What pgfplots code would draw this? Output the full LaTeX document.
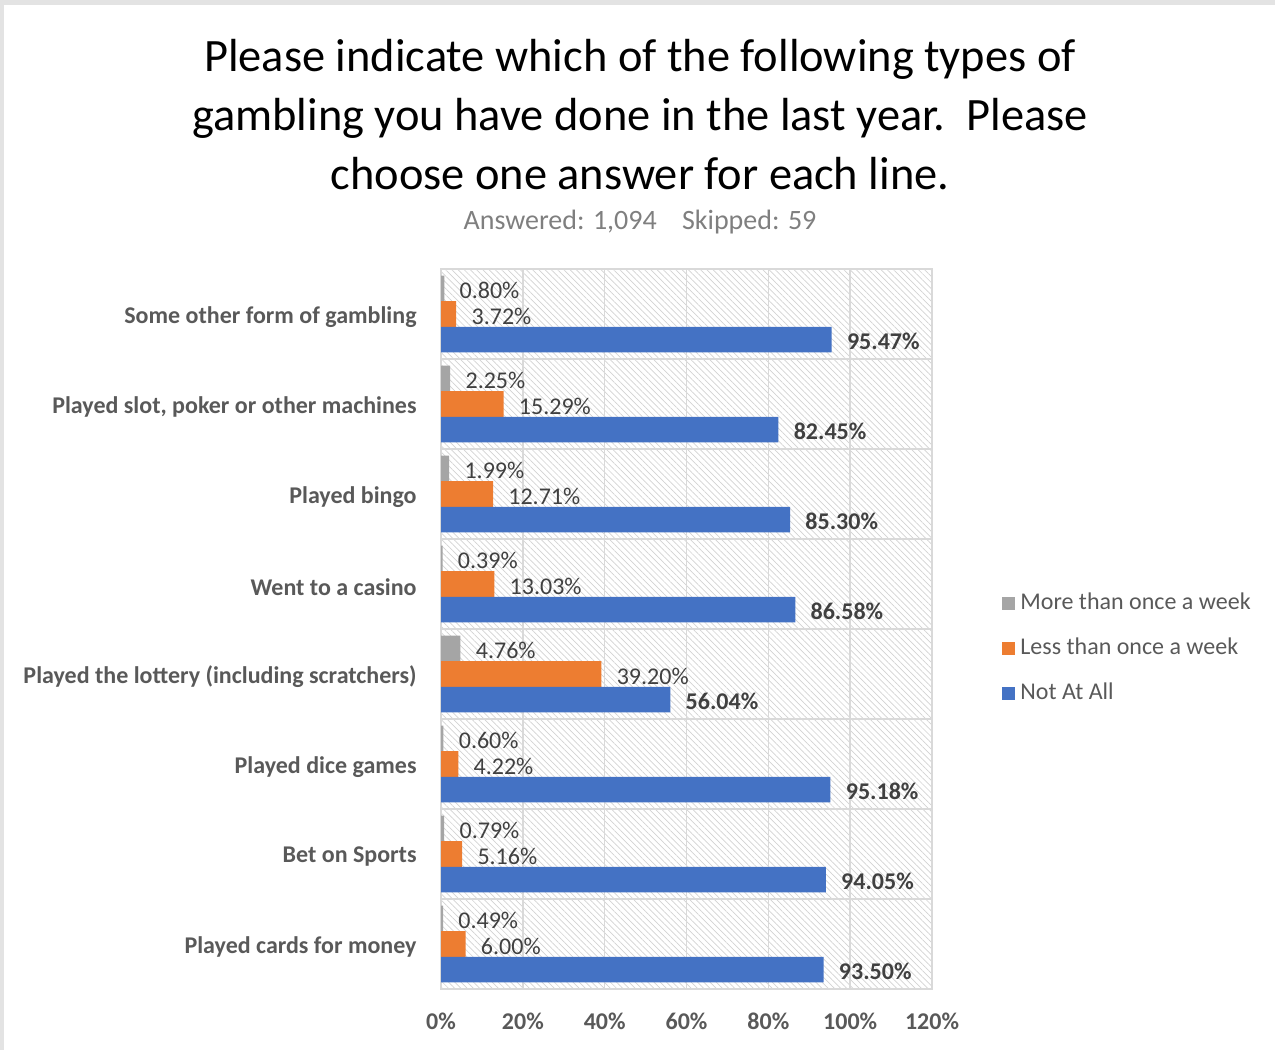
\documentclass[border=0pt]{standalone}
\usepackage{pgfplots}
\pgfplotsset{compat=1.18}
\usepackage{fontspec}
\setmainfont{Carlito}
\usetikzlibrary{patterns.meta}
\definecolor{cgray}{HTML}{A5A5A5}
\definecolor{corange}{HTML}{ED7D31}
\definecolor{cblue}{HTML}{4472C4}
\definecolor{lbl}{HTML}{404040}
\definecolor{axtxt}{HTML}{595959}
\definecolor{gridc}{HTML}{D9D9D9}
\definecolor{subc}{HTML}{7F7F7F}
\begin{document}
\begin{tikzpicture}[x=0.5pt,y=0.5pt]
\path[use as bounding box] (0,0) rectangle (1275,1050);
\fill[gray!22] (0,1045) rectangle (1275,1050);
\fill[gray!22] (0,0) rectangle (4,1050);
% title
\begin{scope}[every node/.style={inner sep=0pt, anchor=base, font=\fontsize{23.2pt}{28pt}\selectfont}]
\node at (640,978) {Please indicate which of the following types of};
\node at (640,919) {gambling you have done in the last year.\ \ Please};
\node at (640,860) {choose one answer for each line.};
\end{scope}
\node[inner sep=0pt, anchor=base, text=subc, font=\fontsize{14pt}{17pt}\selectfont] at (640,820) {Answered: 1,094\hspace{0.9em}Skipped: 59};
\begin{axis}[
  at={(220.5pt,30.5pt)}, anchor=south west, scale only axis,
  width=245.5pt, height=360pt,
  xbar, bar width=0.285,
  xmin=0, xmax=120, ymin=-0.5, ymax=7.5,
  /pgf/number format/assume math mode=true,
  xtick={0,20,...,120},
  xticklabel={\pgfmathprintnumber{\tick}\%},
  xticklabel style={font=\bfseries\fontsize{12pt}{14pt}\selectfont, text=axtxt, inner sep=0pt, anchor=north, yshift=-12pt},
  ytick={0,...,7},
  yticklabels={Played cards for money, Bet on Sports, Played dice games, Played the lottery (including scratchers), Went to a casino, Played bingo, {Played slot, poker or other machines}, Some other form of gambling},
  yticklabel style={font=\bfseries\fontsize{12pt}{14pt}\selectfont, text=axtxt, inner sep=0pt, anchor=east, xshift=-12pt, yshift=-1.5pt},
  minor ytick={-0.5,0.5,...,7.5},
  major tick length=0pt, minor tick length=0pt,
  xmajorgrids, yminorgrids,
  grid style={draw=gridc, line width=0.8pt},
  axis line style={draw=gridc, line width=0.8pt},
  axis background/.style={pattern={Lines[angle=-45,distance=2.2pt,line width=0.35pt]}, pattern color=gray!35},
  nodes near coords={\pgfmathprintnumber[fixed,fixed zerofill,precision=2]{\pgfplotspointmeta}\%},
  nodes near coords style={anchor=west, inner sep=0pt, xshift=7.5pt, yshift=-1pt, text=lbl, font=\fontsize{12pt}{14pt}\selectfont},
  legend image code/.code={\fill[#1] (0pt,-3.25pt) rectangle (6.5pt,3.25pt);},
  legend style={at={(1.1426,0.4736)}, anchor=west, draw=none, fill=none, inner sep=0pt,
    nodes={inner sep=0pt, text height=9pt, text depth=3pt, text=axtxt, font=\fontsize{12pt}{14pt}\selectfont},
    row sep=10.5pt, /tikz/every odd column/.append style={column sep=2.5pt}},
  legend cell align=left,
]
\addplot[fill=cgray, draw=none, bar shift=0.285] coordinates {(0.49,0) (0.79,1) (0.60,2) (4.76,3) (0.39,4) (1.99,5) (2.25,6) (0.80,7)};
\addlegendentry{More than once a week}
\addplot[fill=corange, draw=none, bar shift=0] coordinates {(6.00,0) (5.16,1) (4.22,2) (39.20,3) (13.03,4) (12.71,5) (15.29,6) (3.72,7)};
\addlegendentry{Less than once a week}
\addplot[fill=cblue, draw=none, bar shift=-0.285, nodes near coords style={font=\bfseries\fontsize{12pt}{14pt}\selectfont}] coordinates {(93.50,0) (94.05,1) (95.18,2) (56.04,3) (86.58,4) (85.30,5) (82.45,6) (95.47,7)};
\addlegendentry{Not At All}
\end{axis}
\end{tikzpicture}
\end{document}
